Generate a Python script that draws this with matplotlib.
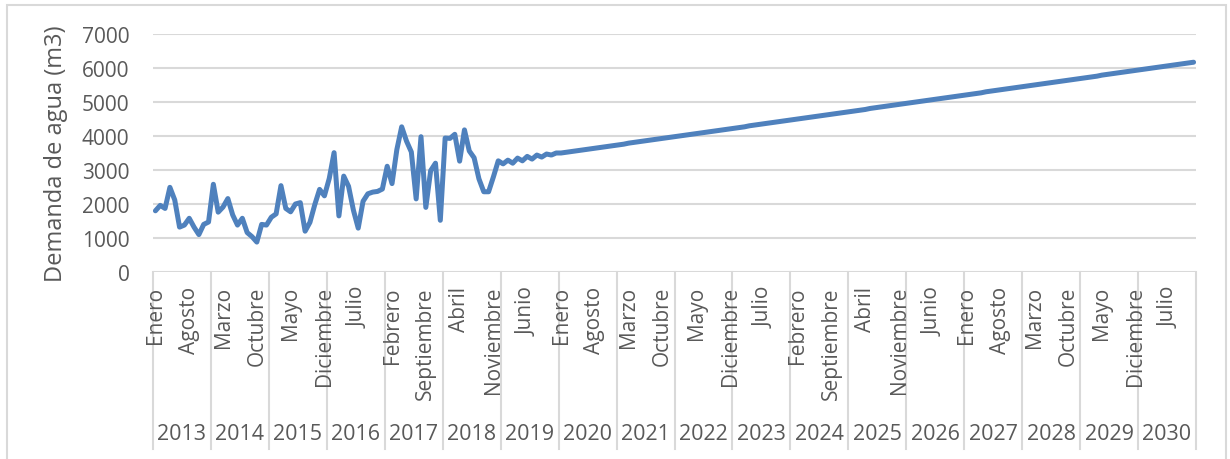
import matplotlib
matplotlib.use("Agg")
import matplotlib.pyplot as plt
from matplotlib.transforms import blended_transform_factory
from matplotlib.lines import Line2D
from matplotlib.patches import Rectangle

# Monthly water demand (m3), January 2013 - December 2030
years = list(range(2013, 2031))
month_names = ["Enero", "Febrero", "Marzo", "Abril", "Mayo", "Junio", "Julio",
               "Agosto", "Septiembre", "Octubre", "Noviembre", "Diciembre"]

demand_2013 = [1800, 1960, 1870, 2490, 2120, 1320, 1380, 1580, 1320, 1100, 1400, 1470]
demand_2014 = [2580, 1760, 1910, 2160, 1680, 1380, 1580, 1160, 1040, 880, 1400, 1380]
demand_2015 = [1610, 1710, 2540, 1870, 1770, 2000, 2040, 1200, 1460, 1980, 2430, 2240]
demand_2016 = [2750, 3510, 1650, 2820, 2520, 1820, 1290, 2080, 2300, 2350, 2370, 2440]
demand_2017 = [3110, 2600, 3600, 4270, 3850, 3530, 2150, 3980, 1900, 2980, 3200, 1520]
demand_2018 = [3940, 3930, 4050, 3260, 4180, 3560, 3360, 2740, 2360, 2360, 2800, 3270]
demand_2019 = [3180, 3290, 3200, 3350, 3270, 3400, 3320, 3440, 3380, 3470, 3440, 3500]
demand_2020 = [3500, 3520, 3540, 3560, 3580, 3600, 3620, 3640, 3660, 3680, 3700, 3720]
demand_2021 = [3740, 3760, 3790, 3810, 3830, 3850, 3870, 3890, 3910, 3930, 3950, 3970]
demand_2022 = [3990, 4010, 4030, 4050, 4070, 4090, 4110, 4130, 4150, 4170, 4190, 4210]
demand_2023 = [4230, 4250, 4270, 4300, 4320, 4340, 4360, 4380, 4400, 4420, 4440, 4460]
demand_2024 = [4480, 4500, 4520, 4540, 4560, 4580, 4600, 4620, 4640, 4660, 4680, 4700]
demand_2025 = [4720, 4740, 4760, 4780, 4810, 4830, 4850, 4870, 4890, 4910, 4930, 4950]
demand_2026 = [4970, 4990, 5010, 5030, 5050, 5070, 5090, 5110, 5130, 5150, 5170, 5190]
demand_2027 = [5210, 5230, 5250, 5270, 5300, 5320, 5340, 5360, 5380, 5400, 5420, 5440]
demand_2028 = [5460, 5480, 5500, 5520, 5540, 5560, 5580, 5600, 5620, 5640, 5660, 5680]
demand_2029 = [5700, 5720, 5740, 5760, 5790, 5810, 5830, 5850, 5870, 5890, 5910, 5930]
demand_2030 = [5950, 5970, 5990, 6010, 6030, 6050, 6070, 6090, 6110, 6130, 6150, 6170]

demand = (demand_2013 + demand_2014 + demand_2015 + demand_2016 + demand_2017 +
          demand_2018 + demand_2019 + demand_2020 + demand_2021 + demand_2022 +
          demand_2023 + demand_2024 + demand_2025 + demand_2026 + demand_2027 +
          demand_2028 + demand_2029 + demand_2030)

y_ticks = [0, 1000, 2000, 3000, 4000, 5000, 6000, 7000]
label_step = 7  # a month label every seven months

TEXT = "#595959"
GRID = "#D9D9D9"
LINE = "#4F81BD"
FONT = "Open Sans"

plt.rcParams["font.family"] = [FONT, "DejaVu Sans"]

fig = plt.figure(figsize=(12.3, 4.6), dpi=100)
W, H = 1230, 460
ax = fig.add_axes([153 / W, 1 - 273 / H, (1196 - 153) / W, (273 - 35) / H])

n = len(demand)
x = list(range(n))
ax.plot(x, demand, color=LINE, lw=3.6, solid_joinstyle="round",
        solid_capstyle="round", zorder=3)

ax.set_xlim(-0.5, n - 0.5)
ax.set_ylim(0, 7000)
ax.set_yticks(y_ticks)
ax.set_yticklabels([str(v) for v in y_ticks], fontsize=15, color=TEXT)
ax.tick_params(axis="y", length=0, pad=17)
ax.set_xticks([])
for sp in ax.spines.values():
    sp.set_visible(False)
for v in y_ticks:
    ax.axhline(v, color=GRID, lw=1.5, zorder=1)

ax.set_ylabel("Demanda de agua (m3)", fontsize=17, color=TEXT, labelpad=10)

# Two-level category axis: months (rotated) and years
trans = blended_transform_factory(ax.transData, ax.transAxes)
axis_h = 273 - 35
sep_bottom = -(450 - 273) / axis_h
for k in range(len(years) + 1):
    xb = k * 12 - 0.5
    ax.add_line(Line2D([xb, xb], [0, sep_bottom], transform=trans,
                       color=GRID, lw=1.5, clip_on=False, zorder=1))

for i in range(0, n, label_step):
    ax.text(i, -(287 - 273) / axis_h, month_names[i % 12], transform=trans,
            rotation=90, ha="center", va="top", fontsize=15, color=TEXT)

for k, yr in enumerate(years):
    ax.text(k * 12 + 5.5, -(434 - 273) / axis_h, str(yr), transform=trans,
            ha="center", va="center", fontsize=15.5, color=TEXT)

# Chart frame
fig.patches.append(Rectangle((7 / W, -0.05), (1226 - 7) / W, 1 - 6 / H + 0.05,
                             transform=fig.transFigure, fill=False,
                             edgecolor=GRID, lw=1.5))

fig.savefig("out.png", dpi=100)
